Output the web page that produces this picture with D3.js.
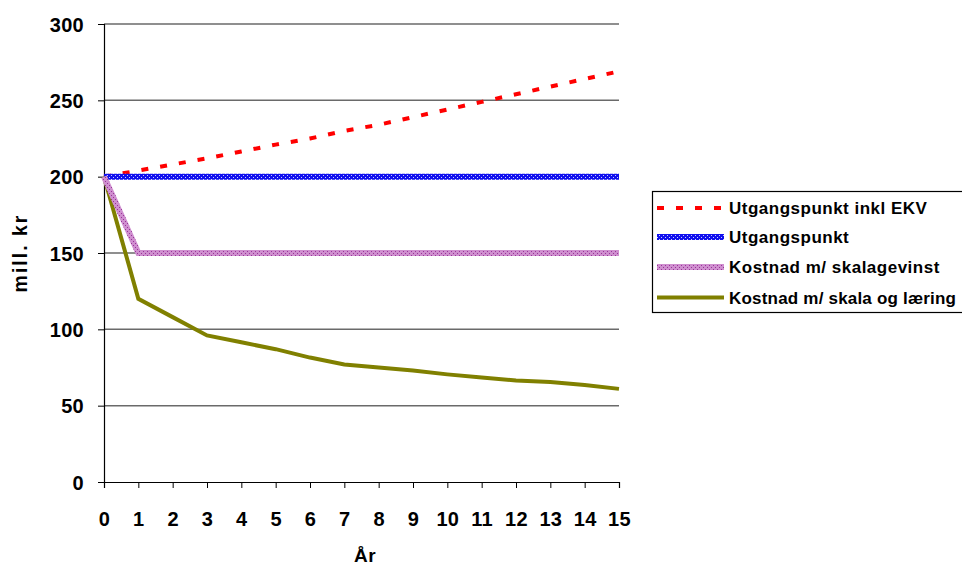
<!DOCTYPE html>
<html><head><meta charset="utf-8">
<script src="https://cdn.jsdelivr.net/npm/d3@7/dist/d3.min.js"></script>
<style>
html,body{margin:0;padding:0;background:#fff;overflow:hidden}
text{font-family:"Liberation Sans",Arial,sans-serif;font-weight:bold;fill:#000}
</style></head>
<body>
<script>
const years = [0,1,2,3,4,5,6,7,8,9,10,11,12,13,14,15];
const yTicks = [0,50,100,150,200,250,300];
const seriesNames = ["Utgangspunkt inkl EKV","Utgangspunkt","Kostnad m/ skalagevinst","Kostnad m/ skala og læring"];
const utgangEKV = [200,204,208,212,216.5,221,225,230,234,239,244,249,254,259,264,269];
const utgang = [200,200,200,200,200,200,200,200,200,200,200,200,200,200,200,200];
const skalagevinst = [200,150,150,150,150,150,150,150,150,150,150,150,150,150,150,150];
const skalaLaering = [200,120,108,96,91.5,87,81.5,77,75,73,70.5,68.5,66.5,65.5,63.5,61];
const xLabel = "År";
const yLabel = "mill. kr";

const W = 962, H = 567;
const svg = d3.select("body").append("svg").attr("width", W).attr("height", H);
const defs = svg.append("defs");
const pb = defs.append("pattern").attr("id","patBlue").attr("patternUnits","userSpaceOnUse").attr("width",4).attr("height",4);
pb.append("rect").attr("width",4).attr("height",4).attr("fill","#1010ee");
pb.append("rect").attr("x",1).attr("y",1).attr("width",1).attr("height",1).attr("fill","#c8c8ff");
pb.append("rect").attr("x",3).attr("y",3).attr("width",1).attr("height",1).attr("fill","#c8c8ff");
const pp = defs.append("pattern").attr("id","patPurple").attr("patternUnits","userSpaceOnUse").attr("width",4).attr("height",4);
pp.append("rect").attr("width",4).attr("height",4).attr("fill","#cf8fcf");
pp.append("rect").attr("x",1).attr("y",1).attr("width",1).attr("height",1).attr("fill","#993399");
pp.append("rect").attr("x",3).attr("y",3).attr("width",1).attr("height",1).attr("fill","#993399");

const x = d3.scaleLinear().domain([0,15]).range([104,619]);
const y = d3.scaleLinear().domain([0,300]).range([482,24]);

// gridlines
svg.append("g").selectAll("line").data(yTicks.filter(d=>d>0)).join("line")
  .attr("x1",x(0)).attr("x2",x(15)).attr("y1",d=>y(d)).attr("y2",d=>y(d))
  .attr("stroke","#6a6a6a").attr("stroke-width",1.5);

// axes
const yAxis = svg.append("g").attr("transform",`translate(${x(0)},0)`)
  .call(d3.axisLeft(y).tickValues(yTicks).tickSize(6).tickPadding(14));
const xAxis = svg.append("g").attr("transform",`translate(0,${y(0)})`)
  .call(d3.axisBottom(x).tickValues(years).tickSize(6).tickPadding(24));
[yAxis,xAxis].forEach(a=>{
  a.select(".domain").attr("stroke","#000").attr("stroke-width",1.2);
  a.selectAll(".tick line").attr("stroke","#000").attr("stroke-width",1);
  a.selectAll("text").style("font-size","20px").style("font-family","Liberation Sans, Arial, sans-serif")
   .style("font-weight","bold").attr("fill","#000").style("letter-spacing","0.3px");
});
yAxis.selectAll("text").attr("dy","0.36em");
xAxis.selectAll("text").attr("dy","0.7em");

const line = d3.line().x((d,i)=>x(years[i])).y(d=>y(d));
const styles = [
  {data:utgangEKV, stroke:"#ff0000", w:4, dash:"7,12"},
  {data:utgang, stroke:"url(#patBlue)", w:6, dash:null},
  {data:skalaLaering, stroke:"#808000", w:4, dash:null},
  {data:skalagevinst, stroke:"url(#patPurple)", w:6, dash:null}
];
styles.forEach(s=>{
  svg.append("path").datum(s.data).attr("d",line).attr("fill","none")
    .attr("stroke",s.stroke).attr("stroke-width",s.w).attr("stroke-dasharray",s.dash)
    .attr("stroke-linejoin","miter");
});

// axis titles
svg.append("text").attr("x",365).attr("y",562).attr("text-anchor","middle")
  .style("font-size","19px").style("letter-spacing","0.5px").text(xLabel);
svg.append("text").attr("transform","translate(27,253) rotate(-90)").attr("text-anchor","middle")
  .style("font-size","19.5px").style("letter-spacing","2px").text(yLabel);

// legend
const lg = svg.append("g");
lg.append("rect").attr("x",652.5).attr("y",191.5).attr("width",400).attr("height",121)
  .attr("fill","#fff").attr("stroke","#000").attr("stroke-width",1.2);
const legStyles = [
  {stroke:"#ff0000", w:4, dash:"7,12"},
  {stroke:"url(#patBlue)", w:6, dash:null},
  {stroke:"url(#patPurple)", w:6, dash:null},
  {stroke:"#808000", w:4, dash:null}
];
const rowY = [208,237,267,297.5];
seriesNames.forEach((n,i)=>{
  const s = legStyles[i];
  lg.append("line").attr("x1",657).attr("x2",724).attr("y1",rowY[i]).attr("y2",rowY[i])
    .attr("stroke",s.stroke).attr("stroke-width",s.w).attr("stroke-dasharray",s.dash);
  lg.append("text").attr("x",729).attr("y",rowY[i]).attr("dy","0.36em")
    .style("font-size","17px").style("letter-spacing",i===3?"0.2px":"0.5px").text(n);
});
</script>
</body></html>
